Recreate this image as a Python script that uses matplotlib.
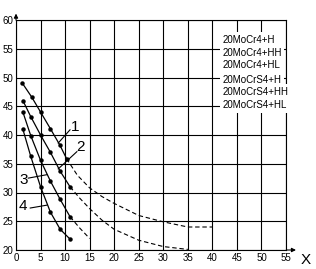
import matplotlib.pyplot as plt

plt.rcParams['font.family'] = ['Liberation Sans', 'DejaVu Sans']

# curve data (solid part with dots, dashed continuation)
c1_x = [1.3, 3.2, 5.0, 7.0, 8.9, 10.3]
c1_y = [49.0, 46.6, 44.0, 41.1, 38.3, 35.9]
c1_dx = [10.3, 12.5, 15, 17.5, 20, 25, 30, 35, 40]
c1_dy = [35.9, 33.0, 30.8, 29.3, 28.1, 26.0, 24.9, 24.0, 24.0]

c2_x = [1.4, 3.0, 5.0, 7.0, 9.0, 11.0]
c2_y = [46.0, 43.2, 40.0, 37.0, 33.7, 31.0]
c2_dx = [11.0, 13, 15, 17.5, 20, 25, 30, 35]
c2_dy = [31.0, 29.0, 27.2, 25.2, 23.6, 21.7, 20.6, 20.1]

c3_x = [1.4, 3.0, 5.0, 7.0, 9.0, 11.0]
c3_y = [44.0, 39.9, 35.6, 32.0, 28.8, 25.8]
c3_dx = [11.0, 13, 15]
c3_dy = [25.8, 23.8, 22.0]

c4_x = [1.4, 3.0, 5.0, 7.0, 9.0, 11.0]
c4_y = [41.0, 36.3, 31.0, 26.6, 23.6, 21.9]

legend_rows = ["20MoCr4+H", "20MoCr4+HH", "20MoCr4+HL",
               "20MoCrS4+H", "20MoCrS4+HH", "20MoCrS4+HL"]
legend_y = [56.6, 54.3, 52.2, 49.6, 47.5, 45.2]

xticks = list(range(0, 60, 5))
yticks = list(range(20, 65, 5))

fig = plt.figure(figsize=(3.16, 2.69), dpi=100)
ax = fig.add_axes([16/316, 19/269, 270/316, 230/269])
ax.set_xlim(0, 55)
ax.set_ylim(20, 60)
ax.set_xticks(xticks)
ax.set_yticks(yticks)
ax.tick_params(length=0, labelsize=7, pad=2)
ax.grid(True, color='k', lw=0.8)
ax.set_axisbelow(True)
for s in ax.spines.values():
    s.set_linewidth(0.8)

for xs, ys in [(c1_x, c1_y), (c2_x, c2_y), (c3_x, c3_y), (c4_x, c4_y)]:
    ax.plot(xs, ys, '-', color='k', lw=0.9, marker='o', ms=2.2, zorder=4)
for xs, ys in [(c1_dx, c1_dy), (c2_dx, c2_dy), (c3_dx, c3_dy)]:
    ax.plot(xs, ys, '--', color='k', lw=0.8, dashes=(4, 2.5), zorder=4)

# curve numbers with leader lines
labels = [("1", (12.0, 41.4), (11.0, 40.9), (8.6, 38.6)),
          ("2", (13.1, 37.9), (12.4, 37.1), (8.6, 34.1)),
          ("3", (1.5, 32.2), (2.5, 32.5), (6.3, 33.1)),
          ("4", (1.5, 27.6), (2.9, 27.3), (6.3, 27.8))]
for t, tp, a, b in labels:
    ax.text(tp[0], tp[1], t, fontsize=11, ha='center', va='center', zorder=5)
    ax.plot([a[0], b[0]], [a[1], b[1]], color='k', lw=0.8, zorder=4)

for t, y in zip(legend_rows, legend_y):
    ax.text(42.0, y, t, fontsize=7, ha='left', va='center', zorder=5,
            bbox=dict(facecolor='white', edgecolor='none', pad=1.8))

# axis arrows
ax.annotate('', xy=(57.6, 20), xytext=(54.5, 20), annotation_clip=False,
            arrowprops=dict(arrowstyle='-|>', lw=0.8, color='k', mutation_scale=6))
ax.annotate('', xy=(0, 61.6), xytext=(0, 59.5), annotation_clip=False,
            arrowprops=dict(arrowstyle='-|>', lw=0.8, color='k', mutation_scale=6))
ax.text(59.0, 18.2, "X", fontsize=11, ha='center', va='center', clip_on=False)

fig.savefig("out.png", dpi=100)
